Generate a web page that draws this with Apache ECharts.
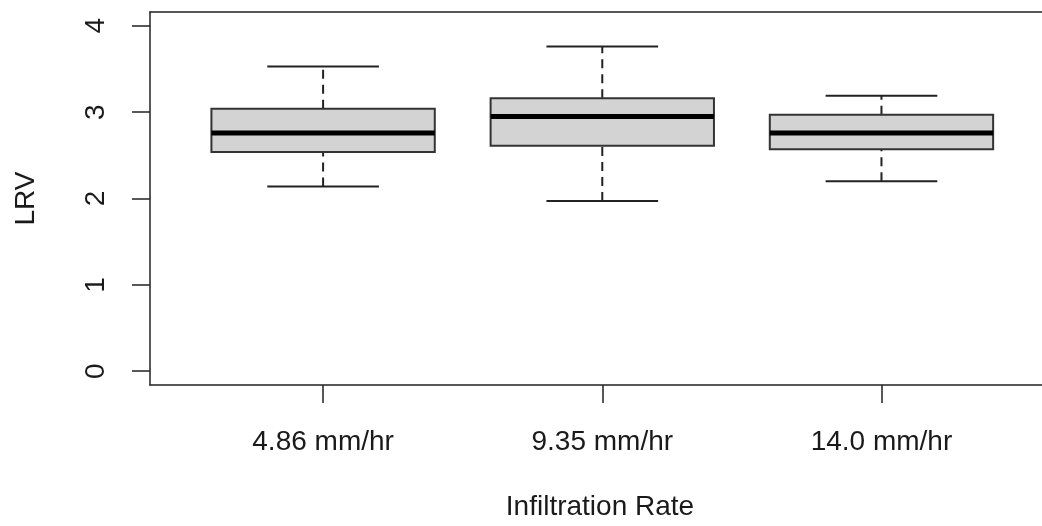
<!DOCTYPE html>
<html>
<head>
<meta charset="utf-8">
<script src="https://cdn.jsdelivr.net/npm/echarts@6/dist/echarts.min.js"></script>
<style>
html,body{margin:0;padding:0;background:#fff;}
#chart{width:1042px;height:526px;}
</style>
</head>
<body>
<div id="chart"></div>
<script>
const categories = ['4.86 mm/hr', '9.35 mm/hr', '14.0 mm/hr'];
const positions = [1, 2, 3];
const whiskerLow = [2.14, 1.97, 2.20];
const q1 = [2.54, 2.61, 2.57];
const median = [2.76, 2.95, 2.76];
const q3 = [3.04, 3.16, 2.97];
const whiskerHigh = [3.53, 3.76, 3.19];
const yTicks = [0, 1, 2, 3, 4];

const boxData = positions.map((p, i) => [p, whiskerLow[i], q1[i], median[i], q3[i], whiskerHigh[i]]);

const FONT = '"Liberation Sans", Arial, sans-serif';
const TXT = '#1a1a1a';
const LINE = {color: '#222', width: 1.5};

const chart = echarts.init(document.getElementById('chart'), null, {renderer: 'canvas'});

function renderItem(params, api) {
  const x = api.value(0), lo = api.value(1), a = api.value(2), m = api.value(3), b = api.value(4), hi = api.value(5);
  const hb = 0.4, hc = 0.2;
  const c = (xx, yy) => api.coord([xx, yy]);
  const dash = {stroke: '#222', lineWidth: 2, lineDash: [9, 6]};
  const solid = {stroke: '#222', lineWidth: 2};
  const pLo = c(x, lo), pA = c(x, a), pB = c(x, b), pHi = c(x, hi);
  const tl = c(x - hb, b), br = c(x + hb, a);
  const ml = c(x - hb, m), mr = c(x + hb, m);
  return {
    type: 'group',
    children: [
      {type: 'line', shape: {x1: pLo[0], y1: pLo[1], x2: pA[0], y2: pA[1]}, style: dash},
      {type: 'line', shape: {x1: pB[0], y1: pB[1], x2: pHi[0], y2: pHi[1]}, style: dash},
      {type: 'line', shape: {x1: c(x - hc, lo)[0], y1: pLo[1], x2: c(x + hc, lo)[0], y2: pLo[1]}, style: solid},
      {type: 'line', shape: {x1: c(x - hc, hi)[0], y1: pHi[1], x2: c(x + hc, hi)[0], y2: pHi[1]}, style: solid},
      {type: 'rect', shape: {x: tl[0], y: tl[1], width: br[0] - tl[0], height: br[1] - tl[1]},
        style: {fill: '#d3d3d3', stroke: '#333', lineWidth: 2}},
      {type: 'line', shape: {x1: ml[0], y1: ml[1], x2: mr[0], y2: mr[1]}, style: {stroke: '#000', lineWidth: 5}}
    ]
  };
}

chart.setOption({
  animation: false,
  backgroundColor: '#fff',
  grid: {left: 150, right: 0, top: 12, bottom: 140, show: false},
  xAxis: [{
    type: 'value', min: 0.38, max: 3.575, position: 'bottom',
    name: 'Infiltration Rate', nameLocation: 'middle', nameGap: 108,
    nameTextStyle: {fontFamily: FONT, fontSize: 28, color: TXT, padding: [0, 0, 0, 8]},
    axisLine: {show: true, onZero: false, lineStyle: LINE},
    splitLine: {show: false},
    axisTick: {show: true, length: 18, customValues: positions, lineStyle: LINE},
    axisLabel: {customValues: positions, margin: 43, fontFamily: FONT, fontSize: 28, color: TXT,
      formatter: v => categories[Math.round(v) - 1]}
  }, {
    type: 'value', min: 0.38, max: 3.575, position: 'top',
    axisLine: {show: true, onZero: false, lineStyle: LINE},
    splitLine: {show: false}, axisTick: {show: false}, axisLabel: {show: false}
  }],
  yAxis: {
    type: 'value', min: -0.16, max: 4.16,
    name: 'LRV', nameLocation: 'middle', nameGap: 110, nameRotate: 90,
    nameTextStyle: {fontFamily: FONT, fontSize: 28, color: TXT},
    axisLine: {show: true, onZero: false, lineStyle: LINE},
    splitLine: {show: false},
    axisTick: {show: true, length: 18, customValues: yTicks, lineStyle: LINE},
    axisLabel: {customValues: yTicks, rotate: 90, margin: 40, fontFamily: FONT, fontSize: 28, color: TXT}
  },
  series: [{
    type: 'custom',
    renderItem: renderItem,
    xAxisIndex: 0,
    encode: {x: 0, y: [1, 2, 3, 4, 5]},
    data: boxData,
    clip: false
  }]
});
</script>
</body>
</html>
